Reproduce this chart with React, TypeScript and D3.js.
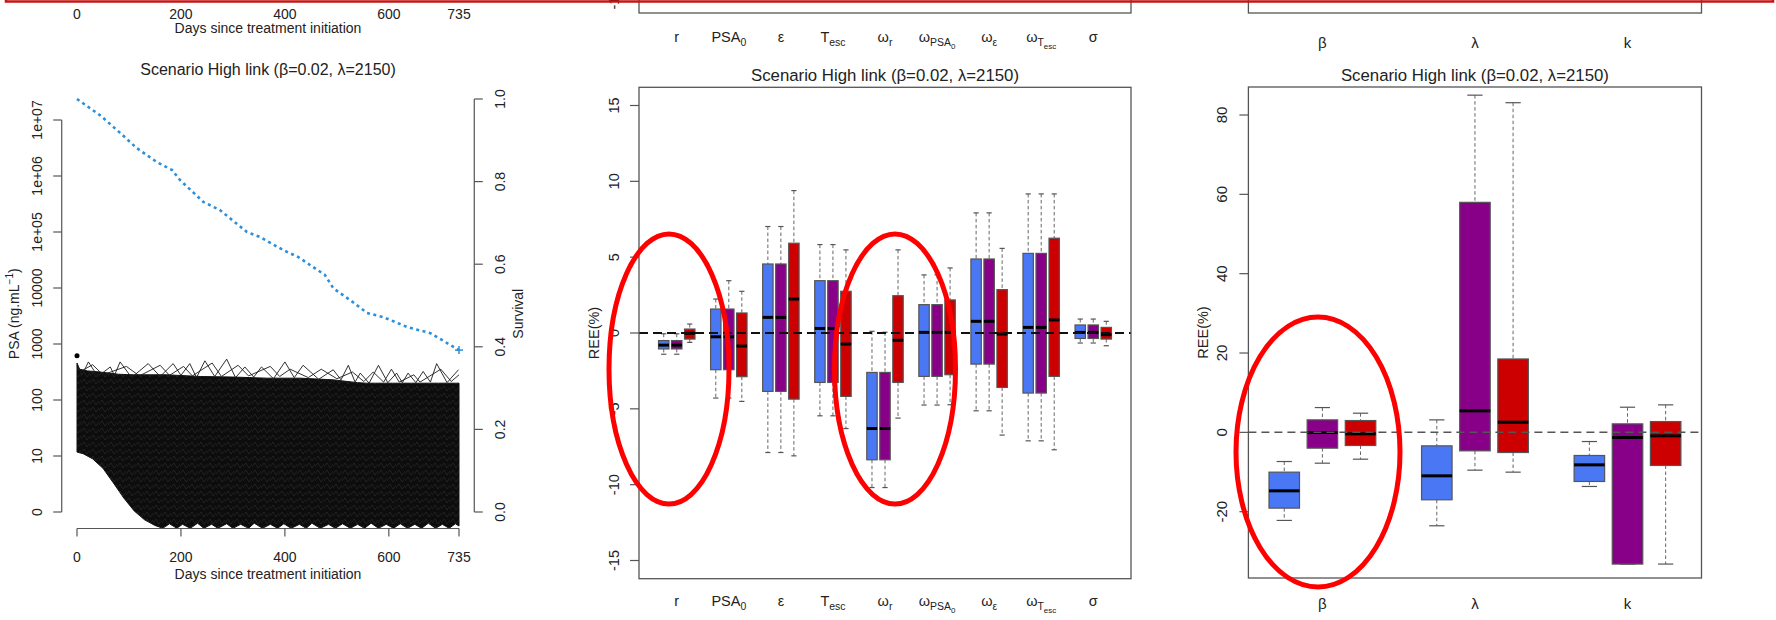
import React from "react";
import * as d3 from "d3";

const FONT = "'Liberation Sans', Arial, Helvetica, sans-serif";
const INK = "#222";
const AXIS = "#555";

const BLUE = "#4a78f5";
const PURPLE = "#870087";
const RED = "#cc0000";

// ---------- Left panel: PSA trajectories (log10 scale) and survival ----------
const dayTicks = [0, 200, 400, 600, 735];
const psaTickExp = [0, 1, 2, 3, 4, 5, 6, 7];
const psaTickLabels = ["0", "10", "100", "1000", "10000", "1e+05", "1e+06", "1e+07"];
const survivalTicks = [0, 0.2, 0.4, 0.6, 0.8, 1.0];

// Kaplan-Meier survival estimate: [day, survival]
const survival: [number, number][] = [
  [0, 1.0], [44, 0.961], [83, 0.918], [115, 0.881], [154, 0.847], [183, 0.828],
  [198, 0.804], [243, 0.751], [275, 0.731], [327, 0.678], [352, 0.666], [397, 0.634],
  [426, 0.617], [477, 0.574], [493, 0.542], [531, 0.508], [558, 0.482], [589, 0.472],
  [635, 0.448], [680, 0.433], [735, 0.392],
];

// Envelope of the simulated PSA trajectories: [day, log10 PSA]
const psaUpper: [number, number][] = [
  [0, 2.66], [5, 2.55], [20, 2.52], [44, 2.5], [80, 2.46], [108, 2.45], [173, 2.45],
  [237, 2.42], [300, 2.41], [365, 2.39], [429, 2.39], [493, 2.36], [540, 2.31],
  [558, 2.3], [622, 2.3], [685, 2.3], [735, 2.3],
];
const psaLower: [number, number][] = [
  [0, 1.07], [12, 1.04], [30, 0.95], [50, 0.78], [70, 0.52], [90, 0.25], [110, 0.02],
  [130, -0.14], [150, -0.24], [165, -0.29], [178, -0.21], [192, -0.29], [203, -0.22],
  [218, -0.29], [232, -0.2], [244, -0.29], [259, -0.22], [271, -0.29], [288, -0.21],
  [300, -0.29], [315, -0.22], [330, -0.29], [341, -0.2], [357, -0.29], [372, -0.22],
  [386, -0.29], [398, -0.21], [412, -0.29], [428, -0.22], [441, -0.29], [452, -0.2],
  [468, -0.29], [484, -0.22], [497, -0.29], [511, -0.21], [526, -0.29], [540, -0.22],
  [553, -0.29], [566, -0.2], [580, -0.29], [595, -0.22], [609, -0.29], [622, -0.21],
  [636, -0.29], [650, -0.22], [663, -0.29], [676, -0.2], [690, -0.29], [703, -0.22],
  [716, -0.29], [728, -0.21], [735, -0.25],
];
// Highest individual trajectories poking above the dense band
const psaTopTraceA: [number, number][] = [
  [0, 2.62], [10, 2.45], [22, 2.68], [40, 2.42], [64, 2.59], [72, 2.44], [83, 2.68],
  [105, 2.4], [137, 2.65], [160, 2.42], [185, 2.65], [200, 2.44], [217, 2.65], [230, 2.4],
  [246, 2.7], [265, 2.42], [288, 2.73], [305, 2.4], [323, 2.59], [340, 2.41], [355, 2.59],
  [378, 2.38], [400, 2.68], [418, 2.4], [435, 2.62], [465, 2.37], [493, 2.54], [508, 2.36],
  [522, 2.62], [535, 2.32], [545, 2.48], [562, 2.3], [580, 2.62], [598, 2.31], [615, 2.48],
  [626, 2.31], [637, 2.48], [652, 2.31], [666, 2.51], [680, 2.32], [692, 2.65], [712, 2.31],
  [734, 2.54],
];
const psaTopTraceB: [number, number][] = [
  [5, 2.5], [30, 2.63], [50, 2.45], [95, 2.6], [120, 2.43], [160, 2.62], [178, 2.44],
  [205, 2.6], [222, 2.43], [260, 2.66], [278, 2.42], [310, 2.62], [330, 2.43], [372, 2.6],
  [390, 2.42], [410, 2.55], [445, 2.4], [470, 2.55], [500, 2.38], [530, 2.5], [552, 2.33],
  [570, 2.5], [590, 2.32], [605, 2.55], [620, 2.32], [648, 2.45], [660, 2.32], [700, 2.55],
  [720, 2.33], [735, 2.45],
];
const psaFirstPoint: [number, number] = [0, 2.79];

// ---------- Middle panel: REE of population parameters ----------
type Lbl = [string, number][];
const paramLabels: Lbl[] = [
  [["r", 0]],
  [["PSA", 0], ["0", 1]],
  [["ε", 0]],
  [["T", 0], ["esc", 1]],
  [["ω", 0], ["r", 1]],
  [["ω", 0], ["PSA", 1], ["0", 2]],
  [["ω", 0], ["ε", 1]],
  [["ω", 0], ["T", 1], ["esc", 2]],
  [["σ", 0]],
];
// each box: [lower whisker, Q1, median, Q3, upper whisker]
type Box = [number, number, number, number, number];
const paramBlue: Box[] = [
  [-1.4, -1.05, -0.8, -0.5, -0.05],
  [-4.29, -2.42, -0.25, 1.58, 2.24],
  [-7.88, -3.85, 1.03, 4.55, 7.02],
  [-5.46, -3.26, 0.3, 3.45, 5.83],
  [-10.19, -8.36, -6.3, -2.6, 0.11],
  [-4.75, -2.86, 0.04, 1.87, 3.83],
  [-5.13, -2.05, 0.77, 4.88, 7.92],
  [-7.11, -3.96, 0.37, 5.25, 9.17],
  [-0.66, -0.36, 0.04, 0.53, 0.92],
];
const paramPurple: Box[] = [
  [-1.4, -1.05, -0.8, -0.5, -0.05],
  [-4.29, -2.42, -0.25, 1.58, 3.45],
  [-7.88, -3.85, 1.03, 4.55, 7.02],
  [-5.46, -3.26, 0.3, 3.45, 5.83],
  [-10.19, -8.36, -6.3, -2.6, 0.05],
  [-4.75, -2.86, 0.04, 1.87, 3.83],
  [-5.13, -2.05, 0.77, 4.88, 7.92],
  [-7.11, -3.96, 0.37, 5.25, 9.17],
  [-0.66, -0.36, 0.04, 0.53, 0.92],
];
const paramRed: Box[] = [
  [-0.62, -0.4, -0.02, 0.26, 0.59],
  [-4.51, -2.88, -0.86, 1.32, 2.75],
  [-8.1, -4.36, 2.24, 5.92, 9.39],
  [-6.3, -4.18, -0.73, 2.75, 5.48],
  [-5.61, -3.26, -0.48, 2.46, 5.48],
  [-4.73, -2.75, 0.04, 2.18, 4.29],
  [-6.73, -3.59, -0.07, 2.86, 5.58],
  [-7.7, -2.86, 0.86, 6.25, 9.17],
  [-0.84, -0.4, -0.11, 0.37, 0.77],
];
const paramTicks = [-15, -10, -5, 0, 5, 10, 15];

// ---------- Right panel: REE of link parameters ----------
const linkLabels: Lbl[] = [[["β", 0]], [["λ", 0]], [["k", 0]]];
const linkBlue: Box[] = [
  [-22.2, -19.1, -14.74, -10.03, -7.35],
  [-23.55, -17.0, -10.96, -3.4, 3.15],
  [-13.64, -12.38, -8.19, -5.83, -2.31],
];
const linkPurple: Box[] = [
  [-7.77, -3.98, -0.04, 3.15, 6.25],
  [-9.53, -4.66, 5.42, 57.98, 85.0],
  [-33.2, -33.2, -1.3, 2.14, 6.34],
];
const linkRed: Box[] = [
  [-6.76, -3.31, -0.38, 2.98, 4.83],
  [-10.03, -5.08, 2.56, 18.5, 83.1],
  [-33.2, -8.35, -0.88, 2.72, 6.93],
];
const linkTicks = [-20, 0, 20, 40, 60, 80];

const TITLE = "Scenario High link (β=0.02, λ=2150)";
const DAYS = "Days since treatment initiation";

function MathLabel({ parts, x, y, size }: { parts: Lbl; x: number; y: number; size: number }) {
  const sizes = [size, size * 0.72, size * 0.55];
  const drop = [0, size * 0.28, size * 0.46];
  let prev = 0;
  return (
    <text x={x} y={y} textAnchor="middle" fontFamily={FONT} fontSize={size} fill={INK}>
      {parts.map(([t, lvl], i) => {
        const dy = drop[lvl] - drop[prev];
        prev = lvl;
        return (
          <tspan key={i} dy={dy} fontSize={sizes[lvl]}>
            {t}
          </tspan>
        );
      })}
    </text>
  );
}

function Boxes({
  sets, colors, x, y, keyPrefix,
}: {
  sets: Box[][]; colors: string[]; x: d3.ScaleLinear<number, number>;
  y: d3.ScaleLinear<number, number>; keyPrefix: string;
}) {
  const out: React.ReactNode[] = [];
  const nGroups = sets[0].length;
  for (let g = 0; g < nGroups; g++) {
    sets.forEach((set, c) => {
      const [lo, q1, med, q3, hi] = set[g];
      const p = 4 * g + c + 1;
      const cx = x(p);
      const hw = x(p + 0.4) - cx;
      const sw = hw / 2;
      const k = `${keyPrefix}-${g}-${c}`;
      out.push(
        <g key={k}>
          <line x1={cx} x2={cx} y1={y(hi)} y2={y(q3)} stroke="#666" strokeWidth={1} strokeDasharray="3.5,2.5" />
          <line x1={cx} x2={cx} y1={y(q1)} y2={y(lo)} stroke="#666" strokeWidth={1} strokeDasharray="3.5,2.5" />
          <line x1={cx - sw} x2={cx + sw} y1={y(hi)} y2={y(hi)} stroke="#555" strokeWidth={1.2} />
          <line x1={cx - sw} x2={cx + sw} y1={y(lo)} y2={y(lo)} stroke="#555" strokeWidth={1.2} />
          <rect x={cx - hw} y={y(q3)} width={2 * hw} height={y(q1) - y(q3)} fill={colors[c]} stroke="#555" strokeWidth={1.2} />
          <line x1={cx - hw} x2={cx + hw} y1={y(med)} y2={y(med)} stroke="#000" strokeWidth={3} />
        </g>
      );
    });
  }
  return <g>{out}</g>;
}

export default function App() {
  // left panel scales
  const xDay = d3.scaleLinear().domain([0, 735]).range([77, 459]);
  const yLog = d3.scaleLinear().domain([0, 7]).range([512, 120]);
  const ySurv = d3.scaleLinear().domain([0, 1]).range([512, 99]);
  const p1Left = xDay(-735 * 0.04);
  const p1Right = xDay(735 * 1.04);
  const p1Bottom = ySurv(-0.04);

  const line = d3.line();
  const toPx = (pts: [number, number][]) => pts.map(([d, v]) => [xDay(d), yLog(v)] as [number, number]);
  const bandPath = line([...toPx(psaUpper), ...toPx(psaLower.slice().reverse())]) + "Z";
  const tracePaths = [psaTopTraceA, psaTopTraceB].map((t) => line(toPx(t)) || "");
  const survPath = line(survival.map(([d, s]) => [xDay(d), ySurv(s)] as [number, number])) || "";
  const survEnd = survival[survival.length - 1];

  // middle panel scales
  const xP2 = d3.scaleLinear().domain([-0.9, 36.9]).range([639, 1131]);
  const yP2 = d3.scaleLinear().domain([-15, 15]).range([560.5, 105.5]);
  const f2 = { x0: 639, x1: 1131, y0: yP2(16.2), y1: yP2(-16.2) };

  // right panel scales
  const xP3 = d3.scaleLinear().domain([0.06, 11.94]).range([1248.4, 1701.5]);
  const yP3 = d3.scaleLinear().domain([-20, 80]).range([511.7, 115]);
  const f3 = { x0: 1248.4, x1: 1701.5, y0: 87, y1: 578 };

  const fs1 = 14;
  const fs2 = 14.5;

  return (
    <svg
      width={1776}
      height={620}
      style={{ position: "absolute", left: 0, top: 0, display: "block" }}
      fontFamily={FONT}
    >
      <defs>
        <pattern id="mesh" width={9} height={7} patternUnits="userSpaceOnUse">
          <path d="M0,5 L3,1 L6,6 L9,2" stroke="#fff" strokeOpacity={0.13} strokeWidth={0.6} fill="none" />
        </pattern>
      </defs>
      <rect x={0} y={0} width={1776} height={620} fill="#fff" />

      {/* ===== remnants of the row above ===== */}
      {dayTicks.map((d) => (
        <text key={"td" + d} x={xDay(d)} y={18.5} textAnchor="middle" fontSize={fs1} fill={INK}>
          {d}
        </text>
      ))}
      <text x={(p1Left + p1Right) / 2} y={33} textAnchor="middle" fontSize={fs1} fill={INK}>
        {DAYS}
      </text>
      <rect x={f2.x0} y={-40} width={f2.x1 - f2.x0} height={53} fill="none" stroke={AXIS} strokeWidth={1.3} />
      <text transform={`translate(${613.6},${9.5}) rotate(-90)`} textAnchor="start" dominantBaseline="central" fontSize={fs2} fill={INK}>
        -15
      </text>
      {paramLabels.map((parts, g) => (
        <MathLabel key={"tp" + g} parts={parts} x={xP2(4 * g + 2)} y={42} size={fs2} />
      ))}
      <rect x={f3.x0} y={-40} width={f3.x1 - f3.x0} height={53} fill="none" stroke={AXIS} strokeWidth={1.3} />
      {linkLabels.map((parts, g) => (
        <MathLabel key={"tl" + g} parts={parts} x={xP3(4 * g + 2)} y={48} size={15} />
      ))}
      <rect x={6} y={-20} width={1767} height={21.5} fill="none" stroke="#c81414" strokeWidth={2.5} />

      {/* ===== left panel ===== */}
      <text x={(p1Left + p1Right) / 2} y={75} textAnchor="middle" fontSize={16} fill={INK}>
        {TITLE}
      </text>
      <path d={bandPath} fill="#0d0d0d" stroke="#111" strokeWidth={1} strokeLinejoin="round" />
      <path d={bandPath} fill="url(#mesh)" stroke="none" />
      {tracePaths.map((d, i) => (
        <path key={"tr" + i} d={d} fill="none" stroke="#1a1a1a" strokeWidth={0.9} />
      ))}
      <circle cx={xDay(psaFirstPoint[0])} cy={yLog(psaFirstPoint[1])} r={2.5} fill="#000" />
      <path d={survPath} fill="none" stroke="#2b8fdb" strokeWidth={2.6} strokeDasharray="3,3.5" />
      <g stroke="#2b8fdb" strokeWidth={1.5}>
        <line x1={xDay(survEnd[0]) - 4} x2={xDay(survEnd[0]) + 4} y1={ySurv(survEnd[1])} y2={ySurv(survEnd[1])} />
        <line x1={xDay(survEnd[0])} x2={xDay(survEnd[0])} y1={ySurv(survEnd[1]) - 4} y2={ySurv(survEnd[1]) + 4} />
      </g>

      {/* left axis: PSA */}
      <line x1={p1Left} x2={p1Left} y1={yLog(7)} y2={yLog(0)} stroke={AXIS} strokeWidth={1.2} />
      {psaTickExp.map((e, i) => (
        <g key={"pt" + e}>
          <line x1={p1Left - 8.5} x2={p1Left} y1={yLog(e)} y2={yLog(e)} stroke={AXIS} strokeWidth={1.2} />
          <text transform={`translate(${37},${yLog(e)}) rotate(-90)`} textAnchor="middle" dominantBaseline="central" fontSize={fs1} fill={INK}>
            {psaTickLabels[i]}
          </text>
        </g>
      ))}
      <text transform={`translate(${13.5},${(99 + p1Bottom) / 2}) rotate(-90)`} textAnchor="middle" dominantBaseline="central" fontSize={fs1} fill={INK}>
        PSA (ng.mL<tspan dy={-5} fontSize={10}>−1</tspan><tspan dy={5}>)</tspan>
      </text>

      {/* right axis: survival */}
      <line x1={p1Right} x2={p1Right} y1={ySurv(1)} y2={ySurv(0)} stroke={AXIS} strokeWidth={1.2} />
      {survivalTicks.map((s) => (
        <g key={"st" + s}>
          <line x1={p1Right} x2={p1Right + 8.5} y1={ySurv(s)} y2={ySurv(s)} stroke={AXIS} strokeWidth={1.2} />
          <text transform={`translate(${500},${ySurv(s)}) rotate(-90)`} textAnchor="middle" dominantBaseline="central" fontSize={fs1} fill={INK}>
            {s.toFixed(1)}
          </text>
        </g>
      ))}
      <text transform={`translate(${518},${(99 + p1Bottom) / 2}) rotate(-90)`} textAnchor="middle" dominantBaseline="central" fontSize={fs1} fill={INK}>
        Survival
      </text>

      {/* bottom axis: days */}
      <line x1={xDay(0)} x2={xDay(735)} y1={p1Bottom} y2={p1Bottom} stroke={AXIS} strokeWidth={1.2} />
      {dayTicks.map((d) => (
        <g key={"bd" + d}>
          <line x1={xDay(d)} x2={xDay(d)} y1={p1Bottom} y2={p1Bottom + 8} stroke={AXIS} strokeWidth={1.2} />
          <text x={xDay(d)} y={561.5} textAnchor="middle" fontSize={fs1} fill={INK}>
            {d}
          </text>
        </g>
      ))}
      <text x={(p1Left + p1Right) / 2} y={579} textAnchor="middle" fontSize={fs1} fill={INK}>
        {DAYS}
      </text>

      {/* ===== middle panel ===== */}
      <text x={(f2.x0 + f2.x1) / 2} y={81} textAnchor="middle" fontSize={16.8} fill={INK}>
        {TITLE}
      </text>
      <Boxes sets={[paramBlue, paramPurple, paramRed]} colors={[BLUE, PURPLE, RED]} x={xP2} y={yP2} keyPrefix="p2" />
      <line x1={f2.x0} x2={f2.x1} y1={yP2(0)} y2={yP2(0)} stroke="#111" strokeWidth={2} strokeDasharray="9,5" />
      <rect x={f2.x0} y={f2.y0} width={f2.x1 - f2.x0} height={f2.y1 - f2.y0} fill="none" stroke={AXIS} strokeWidth={1.3} />
      {paramTicks.map((t) => (
        <g key={"yt2" + t}>
          <line x1={f2.x0 - 9} x2={f2.x0} y1={yP2(t)} y2={yP2(t)} stroke={AXIS} strokeWidth={1.2} />
          <text transform={`translate(${613.6},${yP2(t)}) rotate(-90)`} textAnchor="middle" dominantBaseline="central" fontSize={fs2} fill={INK}>
            {t}
          </text>
        </g>
      ))}
      <text transform={`translate(${594.4},${(f2.y0 + f2.y1) / 2}) rotate(-90)`} textAnchor="middle" dominantBaseline="central" fontSize={14.5} fill={INK}>
        REE(%)
      </text>
      {paramLabels.map((parts, g) => (
        <MathLabel key={"bp" + g} parts={parts} x={xP2(4 * g + 2)} y={606} size={fs2} />
      ))}

      {/* ===== right panel ===== */}
      <text x={(f3.x0 + f3.x1) / 2} y={81} textAnchor="middle" fontSize={16.8} fill={INK}>
        {TITLE}
      </text>
      <Boxes sets={[linkBlue, linkPurple, linkRed]} colors={[BLUE, PURPLE, RED]} x={xP3} y={yP3} keyPrefix="p3" />
      <line x1={f3.x0} x2={f3.x1} y1={yP3(0)} y2={yP3(0)} stroke="#555" strokeWidth={1.5} strokeDasharray="8,5" />
      <rect x={f3.x0} y={f3.y0} width={f3.x1 - f3.x0} height={f3.y1 - f3.y0} fill="none" stroke={AXIS} strokeWidth={1.3} />
      {linkTicks.map((t) => (
        <g key={"yt3" + t}>
          <line x1={f3.x0 - 9} x2={f3.x0} y1={yP3(t)} y2={yP3(t)} stroke={AXIS} strokeWidth={1.2} />
          <text transform={`translate(${1221},${yP3(t)}) rotate(-90)`} textAnchor="middle" dominantBaseline="central" fontSize={15} fill={INK}>
            {t}
          </text>
        </g>
      ))}
      <text transform={`translate(${1203},${(f3.y0 + f3.y1) / 2}) rotate(-90)`} textAnchor="middle" dominantBaseline="central" fontSize={14.5} fill={INK}>
        REE(%)
      </text>
      {linkLabels.map((parts, g) => (
        <MathLabel key={"bl" + g} parts={parts} x={xP3(4 * g + 2)} y={609} size={15} />
      ))}

      {/* ===== hand-drawn highlight ellipses ===== */}
      <g fill="none" stroke="#ff0000" strokeWidth={5}>
        <ellipse cx={669} cy={369} rx={60} ry={135} />
        <ellipse cx={895} cy={369} rx={60.5} ry={135} />
        <ellipse cx={1318} cy={452} rx={82} ry={135} />
      </g>
    </svg>
  );
}
